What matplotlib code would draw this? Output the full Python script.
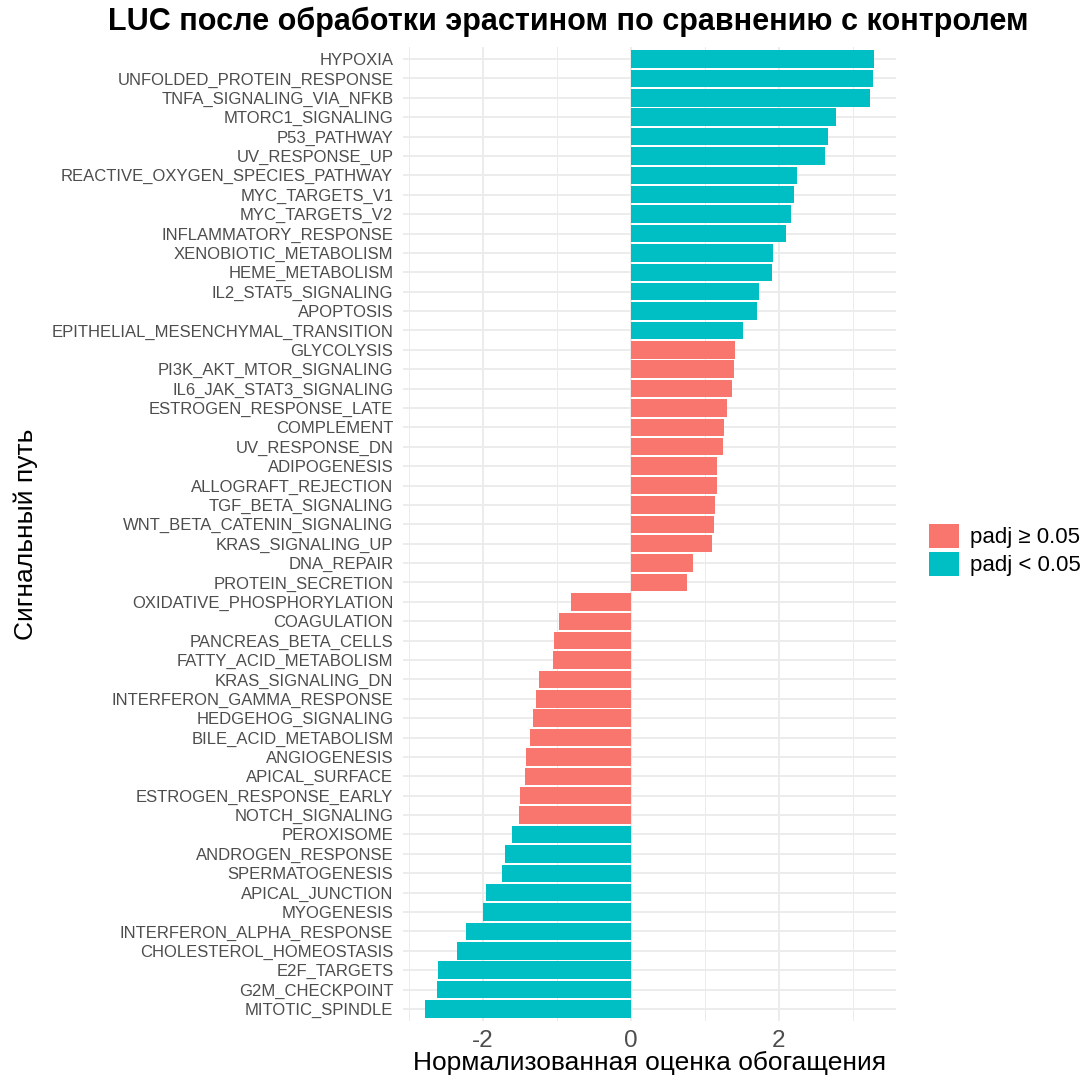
import matplotlib
matplotlib.use("Agg")
import matplotlib.pyplot as plt
from matplotlib.patches import Patch

# Pathways, from top of the chart to the bottom
pathways = [
	"HYPOXIA", "UNFOLDED_PROTEIN_RESPONSE", "TNFA_SIGNALING_VIA_NFKB", "MTORC1_SIGNALING",
	"P53_PATHWAY", "UV_RESPONSE_UP", "REACTIVE_OXYGEN_SPECIES_PATHWAY", "MYC_TARGETS_V1",
	"MYC_TARGETS_V2", "INFLAMMATORY_RESPONSE", "XENOBIOTIC_METABOLISM", "HEME_METABOLISM",
	"IL2_STAT5_SIGNALING", "APOPTOSIS", "EPITHELIAL_MESENCHYMAL_TRANSITION",
	"GLYCOLYSIS", "PI3K_AKT_MTOR_SIGNALING", "IL6_JAK_STAT3_SIGNALING", "ESTROGEN_RESPONSE_LATE",
	"COMPLEMENT", "UV_RESPONSE_DN", "ADIPOGENESIS", "ALLOGRAFT_REJECTION", "TGF_BETA_SIGNALING",
	"WNT_BETA_CATENIN_SIGNALING", "KRAS_SIGNALING_UP", "DNA_REPAIR", "PROTEIN_SECRETION",
	"OXIDATIVE_PHOSPHORYLATION", "COAGULATION", "PANCREAS_BETA_CELLS", "FATTY_ACID_METABOLISM",
	"KRAS_SIGNALING_DN", "INTERFERON_GAMMA_RESPONSE", "HEDGEHOG_SIGNALING", "BILE_ACID_METABOLISM",
	"ANGIOGENESIS", "APICAL_SURFACE", "ESTROGEN_RESPONSE_EARLY", "NOTCH_SIGNALING",
	"PEROXISOME", "ANDROGEN_RESPONSE", "SPERMATOGENESIS", "APICAL_JUNCTION", "MYOGENESIS",
	"INTERFERON_ALPHA_RESPONSE", "CHOLESTEROL_HOMEOSTASIS", "E2F_TARGETS", "G2M_CHECKPOINT",
	"MITOTIC_SPINDLE",
]

# Normalized enrichment score (NES)
nes = [
	3.28, 3.27, 3.23, 2.77, 2.66, 2.62, 2.24, 2.20, 2.16, 2.09, 1.92, 1.91, 1.73, 1.70, 1.51,
	1.40, 1.39, 1.37, 1.30, 1.26, 1.25, 1.16, 1.16, 1.14, 1.12, 1.10, 0.84, 0.76,
	-0.81, -0.98, -1.04, -1.05, -1.24, -1.28, -1.33, -1.36, -1.42, -1.44, -1.50, -1.51,
	-1.61, -1.70, -1.74, -1.96, -2.00, -2.23, -2.35, -2.61, -2.63, -2.78,
]

# True -> padj < 0.05
significant = [True] * 15 + [False] * 25 + [True] * 10

legend_labels = ["padj \u2265 0.05", "padj < 0.05"]
xticks = [-2, 0, 2]
xminor = [-3, -1, 1, 3]

col_ns = "#F8766D"
col_sig = "#00BFC4"

plt.rcParams['font.family'] = ['Liberation Sans', 'DejaVu Sans']

W, H = 1089, 1085
fig = plt.figure(figsize=(W/100, H/100), dpi=100)
fig.patch.set_facecolor("white")

# panel position in pixels (left, right, top, bottom)
pl, pr, pt, pb = 403, 896, 47.4, 1020.6
ax = fig.add_axes([pl/W, 1-pb/H, (pr-pl)/W, (pb-pt)/H])

ypos = list(range(len(pathways)))
colors = [col_sig if s else col_ns for s in significant]
ax.barh(ypos, nes, height=0.9, color=colors, zorder=2)

n = len(pathways)
ax.set_ylim(n - 1 + 0.6, -0.6)
xmin, xmax = min(nes), max(nes)
pad = 0.05 * (xmax - xmin)
ax.set_xlim(xmin - pad, xmax + pad)

ax.set_yticks(ypos)
ax.set_yticklabels(pathways, fontsize=12, color="#4D4D4D")
ax.set_xticks(xticks)
ax.set_xticklabels([str(t) for t in xticks], fontsize=17.5, color="#4D4D4D")
ax.set_xticks(xminor, minor=True)
ax.tick_params(axis='both', which='both', length=0)
ax.tick_params(axis='y', pad=7)
ax.tick_params(axis='x', pad=7)

# theme_minimal like grid
ax.grid(True, which='major', color="#EBEBEB", linewidth=1.3, zorder=0)
ax.grid(True, which='minor', axis='x', color="#EBEBEB", linewidth=0.7, zorder=0)
ax.set_axisbelow(True)
for s in ax.spines.values():
	s.set_visible(False)

ax.set_xlabel("Нормализованная оценка обогащения", fontsize=19)
ax.set_ylabel("Сигнальный путь", fontsize=19)
ax.xaxis.set_label_coords(0.5, (H - 1051 - (H - pb)) / (pb - pt))
ax.yaxis.set_label_coords((38 - pl) / (pr - pl), 0.5)

fig.text(568/W, 1 - 22/H, "LUC после обработки эрастином по сравнению с контролем",
	ha='center', va='center', fontsize=22, fontweight='bold')

handles = [Patch(facecolor=col_ns), Patch(facecolor=col_sig)]
leg = fig.legend(handles, legend_labels, loc='center left', bbox_to_anchor=(929/W, 1 - 550/H),
	frameon=False, fontsize=16, handlelength=1.35, handleheight=1.3, labelspacing=0.15,
	handletextpad=0.5, borderpad=0, borderaxespad=0)

plt.savefig("out.png", dpi=100)
plt.close(fig)
